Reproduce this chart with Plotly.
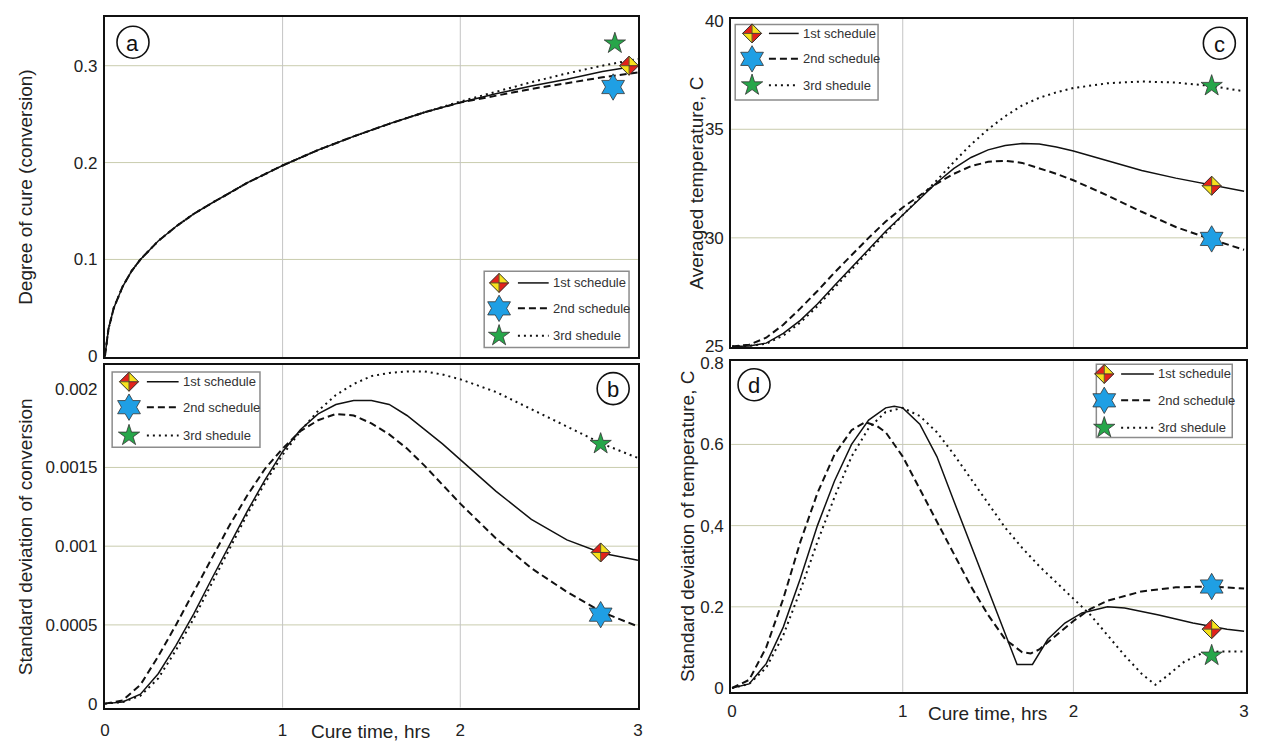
import plotly.graph_objects as go

W, H = 1268, 742
FONT = "Liberation Sans, Arial, sans-serif"
NAMES = ["1st schedule", "2nd schedule", "3rd shedule"]

# ---------------- (a) degree of cure ----------------
t_a = [0, 0.02, 0.05, 0.1, 0.15, 0.2, 0.3, 0.4, 0.5, 0.6, 0.8, 1.0, 1.2, 1.4,
       1.6, 1.8, 2.0, 2.2, 2.4, 2.6, 2.8, 3.0]
cure_1 = [0, 0.028, 0.05, 0.072, 0.088, 0.1, 0.119, 0.134, 0.147, 0.158, 0.179,
          0.197, 0.213, 0.227, 0.240, 0.252, 0.262, 0.271, 0.279, 0.286, 0.294, 0.300]
cure_2 = [0, 0.028, 0.05, 0.072, 0.088, 0.1, 0.119, 0.134, 0.147, 0.158, 0.179,
          0.197, 0.213, 0.227, 0.240, 0.252, 0.262, 0.269, 0.276, 0.282, 0.288, 0.293]
cure_3 = [0, 0.028, 0.05, 0.072, 0.088, 0.1, 0.119, 0.134, 0.147, 0.158, 0.179,
          0.197, 0.213, 0.227, 0.240, 0.252, 0.263, 0.273, 0.283, 0.292, 0.300, 0.307]
mark_a_t = [2.95, 2.86, 2.87]
mark_a_v = [0.300, 0.278, 0.323]

# ---------------- (b) std of conversion ----------------
t_b = [0, 0.1, 0.2, 0.3, 0.4, 0.5, 0.6, 0.7, 0.8, 0.9, 1.0, 1.1, 1.2, 1.3, 1.4,
       1.5, 1.6, 1.7, 1.8, 1.9, 2.0, 2.2, 2.4, 2.6, 2.8, 3.0]
sdc_1 = [0, 0.00001, 0.00006, 0.00019, 0.00037, 0.00057, 0.00079, 0.00101, 0.00122,
         0.00142, 0.00160, 0.00174, 0.00184, 0.00190, 0.001925, 0.001925, 0.00190,
         0.00183, 0.00174, 0.00165, 0.00155, 0.00135, 0.00117, 0.00104, 0.000955, 0.00091]
sdc_2 = [0, 0.00002, 0.00012, 0.00030, 0.00050, 0.00071, 0.00092, 0.00113, 0.00132,
         0.00149, 0.00162, 0.00173, 0.00180, 0.00184, 0.00183, 0.00178, 0.00171,
         0.00162, 0.00151, 0.00139, 0.00127, 0.00105, 0.00086, 0.00071, 0.00058, 0.00049]
sdc_3 = [0, 0.00001, 0.00005, 0.00016, 0.00034, 0.00054, 0.00076, 0.00098, 0.00120,
         0.00140, 0.00158, 0.00173, 0.00186, 0.00196, 0.00203, 0.00208, 0.00210,
         0.00211, 0.00211, 0.00209, 0.00206, 0.00198, 0.00187, 0.00176, 0.00165, 0.00156]
mark_b_t = [2.79, 2.79, 2.79]
mark_b_v = [0.00096, 0.000565, 0.00165]

# ---------------- (c) averaged temperature ----------------
t_c = t_b
temp_1 = [25.0, 25.02, 25.15, 25.6, 26.2, 26.95, 27.8, 28.65, 29.5, 30.3, 31.05, 31.8,
          32.55, 33.2, 33.7, 34.05, 34.25, 34.35, 34.32, 34.18, 34.0, 33.55, 33.1,
          32.75, 32.45, 32.15]
temp_2 = [25.0, 25.08, 25.4, 26.0, 26.75, 27.55, 28.4, 29.2, 30.0, 30.75, 31.4, 31.95,
          32.5, 32.95, 33.3, 33.5, 33.55, 33.45, 33.2, 32.95, 32.65, 31.95, 31.2,
          30.5, 29.95, 29.45]
temp_3 = [25.0, 25.02, 25.12, 25.5, 26.1, 26.85, 27.7, 28.55, 29.4, 30.25, 31.05, 31.85,
          32.65, 33.5, 34.3, 35.0, 35.6, 36.1, 36.45, 36.7, 36.9, 37.12, 37.2, 37.15,
          37.0, 36.75]
mark_c_t = [2.81, 2.81, 2.81]
mark_c_v = [32.4, 29.95, 37.0]

# ---------------- (d) std of temperature ----------------
t_d1 = [0, 0.1, 0.2, 0.3, 0.4, 0.5, 0.6, 0.7, 0.8, 0.9, 0.95, 1.0, 1.1, 1.2, 1.3,
        1.4, 1.5, 1.6, 1.67, 1.76, 1.85, 1.95, 2.05, 2.2, 2.3, 2.5, 2.7, 2.9, 3.0]
sdt_1 = [0, 0.01, 0.06, 0.15, 0.27, 0.40, 0.51, 0.60, 0.66, 0.69, 0.694, 0.69, 0.65,
         0.57, 0.46, 0.35, 0.24, 0.13, 0.058, 0.058, 0.12, 0.16, 0.185, 0.2, 0.197,
         0.18, 0.16, 0.145, 0.14]
t_d2 = [0, 0.1, 0.2, 0.3, 0.4, 0.5, 0.6, 0.7, 0.78, 0.85, 0.9, 1.0, 1.1, 1.2, 1.3,
        1.4, 1.5, 1.6, 1.7, 1.75, 1.8, 1.9, 2.0, 2.1, 2.2, 2.4, 2.6, 2.8, 3.0]
sdt_2 = [0, 0.02, 0.10, 0.22, 0.36, 0.48, 0.575, 0.635, 0.655, 0.645, 0.63, 0.57,
         0.49, 0.41, 0.33, 0.25, 0.18, 0.12, 0.088, 0.085, 0.095, 0.13, 0.165, 0.195,
         0.215, 0.238, 0.248, 0.25, 0.245]
t_d3 = [0, 0.1, 0.2, 0.3, 0.4, 0.5, 0.6, 0.7, 0.8, 0.9, 1.0, 1.1, 1.2, 1.3, 1.4,
        1.5, 1.6, 1.7, 1.8, 1.9, 2.0, 2.1, 2.2, 2.3, 2.4, 2.48, 2.55, 2.65, 2.75,
        2.85, 3.0]
sdt_3 = [0, 0.01, 0.05, 0.13, 0.24, 0.36, 0.47, 0.57, 0.64, 0.68, 0.69, 0.67, 0.63,
         0.575, 0.515, 0.455, 0.395, 0.345, 0.30, 0.26, 0.22, 0.18, 0.13, 0.08,
         0.035, 0.008, 0.03, 0.065, 0.085, 0.09, 0.09]
mark_d_t = [2.81, 2.81, 2.81]
mark_d_v = [0.145, 0.25, 0.08]

# axis ticks
ticks_a = [0, 0.1, 0.2, 0.3]
ticklab_a = ["0", "0.1", "0.2", "0.3"]
ticks_b = [0, 0.0005, 0.001, 0.0015, 0.002]
ticklab_b = ["0", "0.0005", "0.001", "0.0015", "0.002"]
ticks_c = [25, 30, 35, 40]
ticklab_c = ["25", "30", "35", "40"]
ticks_d = [0, 0.2, 0.4, 0.6, 0.8]
ticklab_d = ["0", "0.2", "0,4", "0.6", "0.8"]
ticks_t = [0, 1, 2, 3]
ticklab_t = ["0", "1", "2", "3"]

# ---------------- styling ----------------
LINE_STYLE = [dict(color="#111", width=1.5, dash="solid"),
              dict(color="#111", width=2, dash="7px,4px"),
              dict(color="#111", width=2, dash="2px,4px")]
BLUE, GREEN = "#1f9fe4", "#27a64a"
RED, YELLOW = "#e3221b", "#f6e21c"
OUTLINE = "#333333"
HGRID, VGRID = "#c9ccae", "#c4c4c4"
TICK_FONT = dict(family=FONT, size=17, color="#222")
TITLE_FONT = dict(family=FONT, size=19, color="#222")


def fx(p):
    return p / W


def fy(p):
    return 1 - p / H


# panel frames in pixels: (left, right, top, bottom)
frames = {
    "a": (100.7, 638, 10, 358),
    "b": (100.7, 638, 366, 716),
    "c": (732, 1251, 12, 348),
    "d": (732, 1251, 362, 700),
}
axis_ids = {"a": ("x", "y"), "b": ("x2", "y2"), "c": ("x3", "y3"), "d": ("x4", "y4")}
xranges = {"a": [0, 3], "b": [0, 3], "c": [-0.005, 3.012], "d": [-0.005, 3.012]}
yranges = {"a": [-0.001, 0.3505], "b": [-0.000025, 0.00215],
           "c": [24.95, 40.09], "d": [-0.0096, 0.805]}
yticks = {"a": (ticks_a, ticklab_a), "b": (ticks_b, ticklab_b),
          "c": (ticks_c, ticklab_c), "d": (ticks_d, ticklab_d)}
hgrid = {"a": [0.1, 0.2, 0.3], "b": [0.0005, 0.001, 0.0015],
         "c": [30, 35], "d": [0.2, 0.4, 0.6]}

series = {
    "a": [(t_a, cure_1), (t_a, cure_2), (t_a, cure_3)],
    "b": [(t_b, sdc_1), (t_b, sdc_2), (t_b, sdc_3)],
    "c": [(t_c, temp_1), (t_c, temp_2), (t_c, temp_3)],
    "d": [(t_d1, sdt_1), (t_d2, sdt_2), (t_d3, sdt_3)],
}
marks = {"a": (mark_a_t, mark_a_v), "b": (mark_b_t, mark_b_v),
         "c": (mark_c_t, mark_c_v), "d": (mark_d_t, mark_d_v)}

fig = go.Figure()
shapes = []
annotations = []


# ---- glyph builders (pixel-sized paths anchored at a point) ----
def _poly(pts):
    return "M" + " L".join(f"{x:.2f},{y:.2f}" for x, y in pts) + " Z"


def diamond_glyph(xref, yref, xa, ya, r=9.5):
    base = dict(type="path", xref=xref, yref=yref, xsizemode="pixel",
                ysizemode="pixel", xanchor=xa, yanchor=ya, layer="above")
    out = []
    quads = [([(-r, 0), (0, r), (0, 0)], RED),
             ([(0, r), (r, 0), (0, 0)], YELLOW),
             ([(r, 0), (0, -r), (0, 0)], RED),
             ([(0, -r), (-r, 0), (0, 0)], YELLOW)]
    for pts, col in quads:
        out.append(dict(base, path=_poly(pts), fillcolor=col,
                        line=dict(color=col, width=0.5)))
    out.append(dict(base, path=_poly([(-r, 0), (0, r), (r, 0), (0, -r)]),
                    line=dict(color=OUTLINE, width=1)))
    out.append(dict(base, path=f"M{-r},0 L{r},0 M0,{r} L0,{-r}",
                    line=dict(color=OUTLINE, width=0.8)))
    return out


def hexagram_glyph(xref, yref, xa, ya, size=20):
    r = size / 2
    x1, x2, y = 0.38 * r, 0.76 * r, 0.66 * r
    pts = [(-x2, 0), (-x2 - x1, -y), (-x1, -y), (0, -2 * y), (x1, -y), (x2 + x1, -y),
           (x2, 0), (x2 + x1, y), (x1, y), (0, 2 * y), (-x1, y), (-x2 - x1, y)]
    return [dict(type="path", xref=xref, yref=yref, xsizemode="pixel",
                 ysizemode="pixel", xanchor=xa, yanchor=ya, layer="above",
                 path=_poly(pts), fillcolor=BLUE, line=dict(color=OUTLINE, width=0.8))]


def star_glyph(xref, yref, xa, ya, size=16):
    rs = size / 2 * 1.4
    x1, x2, x3, x4 = 0.225 * rs, 0.951 * rs, 0.363 * rs, 0.588 * rs
    y1, y2, y3, y4, y5 = -rs, -0.309 * rs, 0.118 * rs, 0.809 * rs, 0.382 * rs
    pts = [(x1, y2), (x2, y2), (x3, y3), (x4, y4), (0, y5), (-x4, y4), (-x3, y3),
           (-x2, y2), (-x1, y2), (0, y1)]
    pts = [(x, -yy) for x, yy in pts]  # pixel paths here grow upward
    return [dict(type="path", xref=xref, yref=yref, xsizemode="pixel",
                 ysizemode="pixel", xanchor=xa, yanchor=ya, layer="above",
                 path=_poly(pts), fillcolor=GREEN, line=dict(color=OUTLINE, width=0.8))]


# ---- panels ----
for key in ["a", "b", "c", "d"]:
    xid, yid = axis_ids[key]
    left, right, top, bottom = frames[key]
    xname = "xaxis" + xid[1:]
    yname = "yaxis" + yid[1:]
    show_x = key in ("b", "d")
    fig.layout[xname] = dict(
        domain=[fx(left), fx(right)], range=xranges[key], anchor=yid,
        showline=True, mirror=True, linecolor="#111", linewidth=2,
        showgrid=False, zeroline=False, ticks="",
        tickvals=ticks_t, ticktext=ticklab_t, showticklabels=show_x,
        ticklabelstandoff=6 if key == "b" else 3,
        tickfont=TICK_FONT)
    tv, tt = yticks[key]
    fig.layout[yname] = dict(
        domain=[fy(bottom), fy(top)], range=yranges[key], anchor=xid,
        showline=True, mirror=True, linecolor="#111", linewidth=2,
        showgrid=False, zeroline=False, ticks="",
        tickvals=tv, ticktext=tt, ticklabelstandoff=2,
        tickfont=TICK_FONT)

    # grid lines
    for v in hgrid[key]:
        shapes.append(dict(type="line", xref=f"{xid} domain", yref=yid, x0=0, x1=1,
                           y0=v, y1=v, line=dict(color=HGRID, width=1), layer="below"))
    for v in [1, 2]:
        shapes.append(dict(type="line", xref=xid, yref=f"{yid} domain", x0=v, x1=v,
                           y0=0, y1=1, line=dict(color=VGRID, width=1), layer="below"))

    # curves
    for (tx, vy), st, nm in zip(series[key], LINE_STYLE, NAMES):
        fig.add_trace(go.Scatter(x=tx, y=vy, mode="lines", name=nm, line=st,
                                 xaxis=xid, yaxis=yid, showlegend=False,
                                 hoverinfo="skip"))

    # end-of-run markers
    mt, mv = marks[key]
    shapes.extend(diamond_glyph(xid, yid, mt[0], mv[0]))
    fig.add_trace(go.Scatter(x=[mt[1]], y=[mv[1]], mode="markers", xaxis=xid, yaxis=yid,
                             marker=dict(symbol="hexagram", size=20, color=BLUE,
                                         line=dict(color=OUTLINE, width=0.8)),
                             showlegend=False, cliponaxis=False, hoverinfo="skip"))
    fig.add_trace(go.Scatter(x=[mt[2]], y=[mv[2]], mode="markers", xaxis=xid, yaxis=yid,
                             marker=dict(symbol="star", size=16, color=GREEN,
                                         line=dict(color=OUTLINE, width=0.8)),
                             showlegend=False, cliponaxis=False, hoverinfo="skip"))

# ---- legends (box, glyph, line sample, label) ----
legends = {
    # box (l, t, r, b), glyph x, line x0, line x1, text x, row y's
    "a": ((483, 270, 629, 348), 498, 517, 548, 550, (282, 308, 336)),
    "b": ((108, 373, 257, 450), 125, 143, 175, 177, (383, 409, 438)),
    "c": ((736, 18, 880, 95), 753, 770, 800, 802, (27, 53, 80)),
    "d": ((1100, 365, 1237, 440), 1108, 1125, 1158, 1160, (375, 402, 430)),
}
for key, (box, gx, lx0, lx1, tx, rows) in legends.items():
    shapes.append(dict(type="rect", xref="paper", yref="paper",
                       x0=fx(box[0]), x1=fx(box[2]), y0=fy(box[3]), y1=fy(box[1]),
                       line=dict(color="#8c8c8c", width=1.5), fillcolor="white",
                       layer="above"))
    builders = [diamond_glyph, hexagram_glyph, star_glyph]
    for ry, st, nm, build in zip(rows, LINE_STYLE, NAMES, builders):
        shapes.extend(build("paper", "paper", fx(gx), fy(ry)))
        shapes.append(dict(type="line", xref="paper", yref="paper",
                           x0=fx(lx0), x1=fx(lx1), y0=fy(ry), y1=fy(ry),
                           line=dict(color="#111", width=st["width"], dash=st["dash"]),
                           layer="above"))
        annotations.append(dict(xref="paper", yref="paper", x=fx(tx), y=fy(ry),
                                xanchor="left", yanchor="middle", showarrow=False,
                                text=nm, font=dict(family=FONT, size=13, color="#333")))

# ---- panel letters in circles ----
letters = {"a": (129, 36), "b": (613, 390), "c": (1224, 37), "d": (755, 386)}
for key, (cx, cy) in letters.items():
    shapes.append(dict(type="circle", xref="paper", yref="paper", xsizemode="pixel",
                       ysizemode="pixel", xanchor=fx(cx), yanchor=fy(cy),
                       x0=-16, x1=16, y0=-16, y1=16,
                       line=dict(color="#111", width=1.6), fillcolor="white",
                       layer="above"))
    annotations.append(dict(xref="paper", yref="paper", x=fx(cx), y=fy(cy + 1),
                            xanchor="center", yanchor="middle", showarrow=False,
                            text=key, font=dict(family=FONT, size=22, color="#111")))

# ---- axis titles ----
ytitles = [("Degree of cure (conversion)", 20, 184),
           ("Standard deviation of conversion", 20, 541),
           ("Averaged temperature, C", 697, 180),
           ("Standard deviation of temperature, C", 688, 531)]
for txt, x, y in ytitles:
    annotations.append(dict(xref="paper", yref="paper", x=fx(x), y=fy(y),
                            xanchor="center", yanchor="middle", showarrow=False,
                            textangle=-90, text=txt, font=TITLE_FONT))
for x, y in [(368, 740), (990, 722)]:
    annotations.append(dict(xref="paper", yref="paper", x=fx(x), y=fy(y),
                            xanchor="center", yanchor="middle", showarrow=False,
                            text="Cure time, hrs", font=TITLE_FONT))

fig.update_layout(width=W, height=H, margin=dict(l=0, r=0, t=0, b=0),
                  paper_bgcolor="white", plot_bgcolor="white",
                  shapes=shapes, annotations=annotations, showlegend=False,
                  font=dict(family=FONT))

fig.write_html("out.html")
